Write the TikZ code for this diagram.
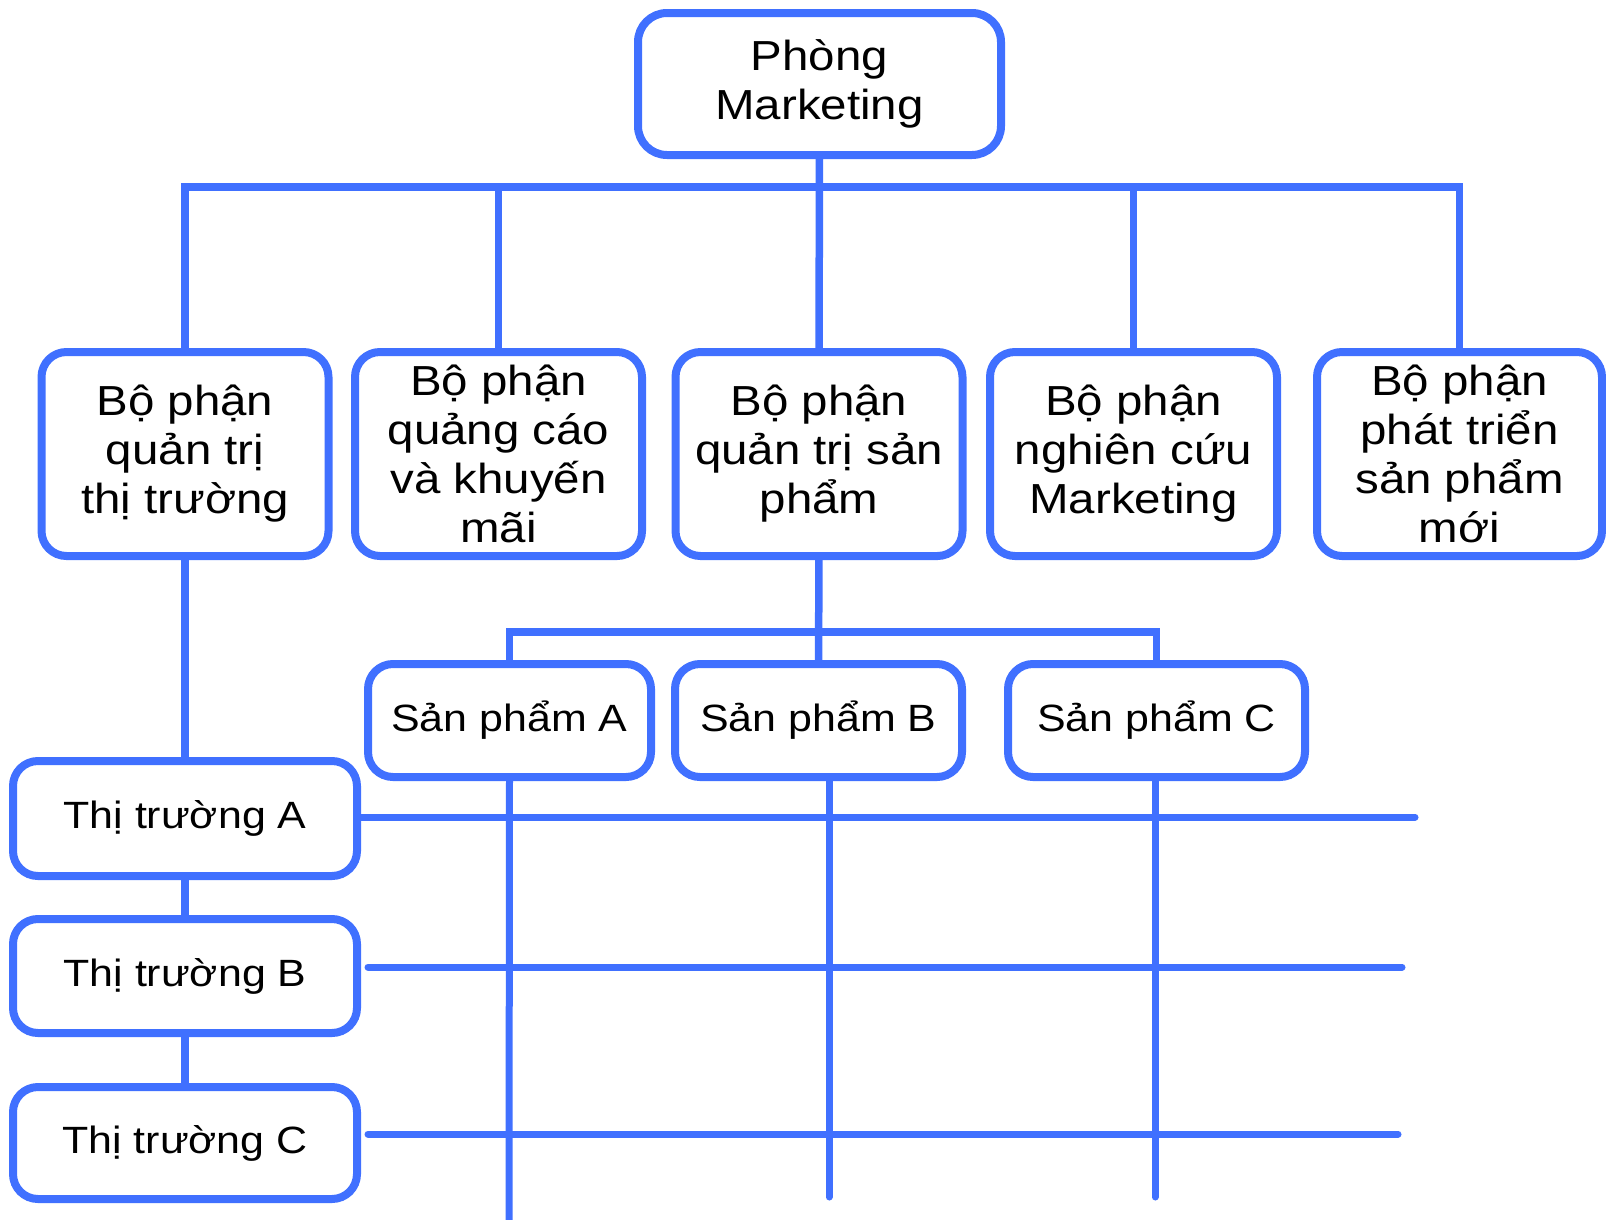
\documentclass[tikz,border=0pt]{standalone}
\usepackage{fontspec}
\setmainfont{Liberation Sans}[FakeStretch=1.13]
\definecolor{orgblue}{RGB}{64,112,255}
\begin{document}
\begin{tikzpicture}[x=1pt,y=-1pt,
  box/.style={draw=orgblue, line width=8pt, rounded corners=25pt, fill=white,
    align=center, inner sep=0pt, outer sep=0pt, text=black},
  head/.style={box, rounded corners=29pt, minimum width=363pt, minimum height=142pt,
    font=\fontsize{42}{49}\selectfont},
  dept/.style={box, minimum width=287pt, minimum height=204pt,
    font=\fontsize{42}{49}\selectfont},
  unit/.style={box, minimum height=113pt, font=\fontsize{38}{44}\selectfont},
  link/.style={draw=orgblue, line width=7.5pt},
  gridline/.style={draw=orgblue, line width=7pt, line cap=round}]
\useasboundingbox (0,0) rectangle (1606,1219);

% head office
\node[head] (top) at (819.5,84) {Phòng\\Marketing};

% departments
\node[dept] (b1) at (185,454)    {Bộ phận\\quản trị\\thị trường};
\node[dept] (b2) at (498.5,454)  {Bộ phận\\quảng cáo\\và khuyến\\mãi};
\node[dept] (b3) at (819,454)    {Bộ phận\\quản trị sản\\phẩm};
\node[dept] (b4) at (1133.5,454) {Bộ phận\\nghiên cứu\\Marketing};
\node[dept, minimum width=285pt] (b5) at (1459.5,454) {Bộ phận\\phát triển\\sản phẩm\\mới};

% products
\node[unit, minimum width=283pt] (pa) at (509.5,720.5) {Sản phẩm A};
\node[unit, minimum width=287pt] (pb) at (818.5,720.5) {Sản phẩm B};
\node[unit, minimum width=297pt] (pc) at (1156.5,720.5) {Sản phẩm C};

% markets
\node[unit, minimum width=344pt, minimum height=115pt] (ma) at (185,818.5) {Thị trường A};
\node[unit, minimum width=344pt, minimum height=114pt] (mb) at (185,976)   {Thị trường B};
\node[unit, minimum width=344pt, minimum height=112pt] (mc) at (185,1143)  {Thị trường C};

% bus junctions and free line ends
\coordinate (tbus) at (819,187);
\coordinate (pbus) at (819,632);
\coordinate (ea) at (1415,817);
\coordinate (sb) at (368,967);
\coordinate (eb) at (1402,967);
\coordinate (sc) at (368,1134);
\coordinate (ec) at (1398,1134);
\coordinate (za) at (509,1224);
\coordinate (zb) at (829,1197);
\coordinate (zc) at (1155,1197);

% head office to departments
\draw[link] (top.south) -- (b3.north);
\draw[link] (b1.north) |- (tbus) -| (b5.north);
\draw[link] (b2.north) |- (tbus);
\draw[link] (b4.north) |- (tbus);

% product management to products
\draw[link] (b3.south) -- (pb.north);
\draw[link] (pa.north) |- (pbus) -| (pc.north);

% market management to markets
\draw[link] (b1.south) -- (ma.north);
\draw[link] (ma.south) -- (mb.north);
\draw[link] (mb.south) -- (mc.north);

% matrix lines
\draw[gridline] (pa.south) -- (za);
\draw[gridline] (pb.south -| zb) -- (zb);
\draw[gridline] (pc.south -| zc) -- (zc);
\draw[gridline] (ma.east |- ea) -- (ea);
\draw[gridline] (sb) -- (eb);
\draw[gridline] (sc) -- (ec);
\end{tikzpicture}
\end{document}
